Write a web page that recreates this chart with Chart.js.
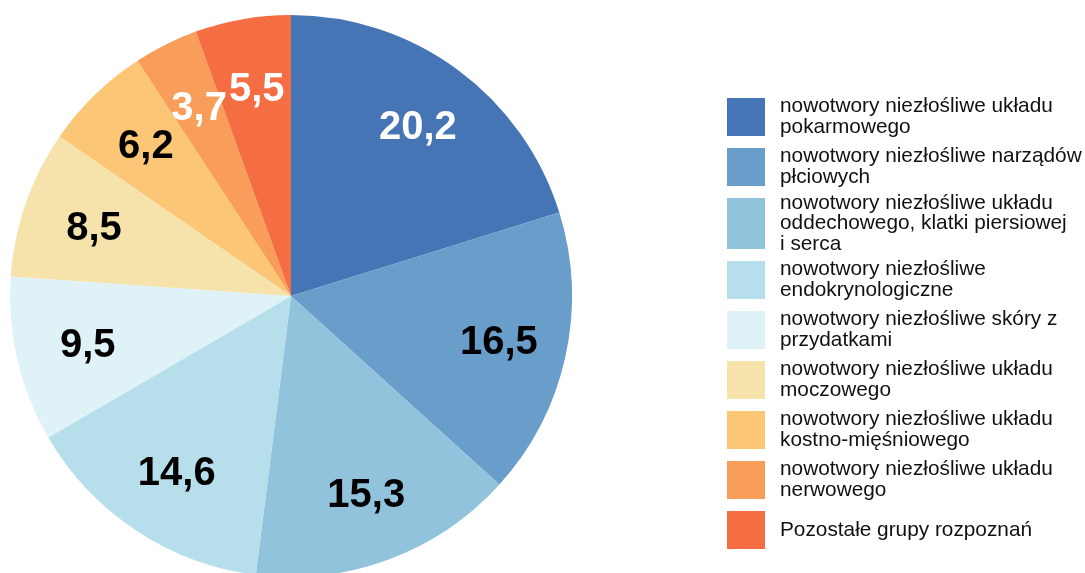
<!DOCTYPE html>
<html>
<head>
<meta charset="utf-8">
<script src="https://cdn.jsdelivr.net/npm/chart.js@4"></script>
<style>
  html, body { margin: 0; padding: 0; background: #fff; overflow: hidden; }
  #wrap { position: absolute; left: 0; top: 0; width: 1085px; height: 592px; }
</style>
</head>
<body>
<div id="wrap"><canvas id="chart"></canvas></div>
<script>
// categories (each one split into the lines shown in the legend)
const categories = [
  ["nowotwory niezłośliwe układu", "pokarmowego"],
  ["nowotwory niezłośliwe narządów", "płciowych"],
  ["nowotwory niezłośliwe układu", "oddechowego, klatki piersiowej", "i serca"],
  ["nowotwory niezłośliwe", "endokrynologiczne"],
  ["nowotwory niezłośliwe skóry z", "przydatkami"],
  ["nowotwory niezłośliwe układu", "moczowego"],
  ["nowotwory niezłośliwe układu", "kostno-mięśniowego"],
  ["nowotwory niezłośliwe układu", "nerwowego"],
  ["Pozostałe grupy rozpoznań"]
];
const values = [20.2, 16.5, 15.3, 14.6, 9.5, 8.5, 6.2, 3.7, 5.5];
const colors = ["#4575b4", "#699dca", "#91c3dc", "#b7dfeb", "#dff2f8", "#f6e3ab", "#fbc777", "#f99e5a", "#f46d43"];
const labelColors = ["#fff", "#000", "#000", "#000", "#000", "#000", "#000", "#fff", "#fff"];

const FONT = "'Liberation Sans', Arial, sans-serif";

// value labels inside slices
const sliceLabels = {
  id: "sliceLabels",
  afterDatasetsDraw(chart) {
    const ctx = chart.ctx;
    const meta = chart.getDatasetMeta(0);
    ctx.save();
    ctx.font = "bold 40px " + FONT;
    ctx.textAlign = "center";
    ctx.textBaseline = "middle";
    meta.data.forEach((arc, i) => {
      const p = arc.getProps(["x", "y", "startAngle", "endAngle", "outerRadius"], true);
      const mid = (p.startAngle + p.endAngle) / 2;
      const r = p.outerRadius * 0.75;
      ctx.fillStyle = labelColors[i];
      ctx.fillText(values[i].toFixed(1).replace(".", ","), p.x + Math.cos(mid) * r + 2, p.y + Math.sin(mid) * r + 2);
    });
    ctx.restore();
  }
};

// legend on the right, with wrapped lines
const sideLegend = {
  id: "sideLegend",
  afterDraw(chart) {
    const ctx = chart.ctx;
    ctx.save();
    ctx.font = "20.8px " + FONT;
    ctx.textAlign = "left";
    ctx.textBaseline = "middle";
    let y = 98;
    categories.forEach((lines, i) => {
      const h = lines.length > 2 ? 51 : 38;
      ctx.fillStyle = colors[i];
      ctx.fillRect(727, y, 38, h);
      ctx.fillStyle = "#111";
      const lh = 20.5;
      const cy = y + h / 2 - (lines.length - 1) * lh / 2;
      lines.forEach((t, k) => ctx.fillText(t, 780, cy + k * lh));
      y += h + 12;
    });
    ctx.restore();
  }
};

new Chart(document.getElementById("chart"), {
  type: "pie",
  data: {
    labels: categories,
    datasets: [{
      data: values,
      backgroundColor: colors,
      borderWidth: 0
    }]
  },
  options: {
    responsive: true,
    maintainAspectRatio: false,
    animation: false,
    layout: { padding: { left: 10, top: 15, right: 513, bottom: 15 } },
    plugins: {
      legend: { display: false },
      tooltip: { enabled: false }
    }
  },
  plugins: [sliceLabels, sideLegend]
});
</script>
</body>
</html>
